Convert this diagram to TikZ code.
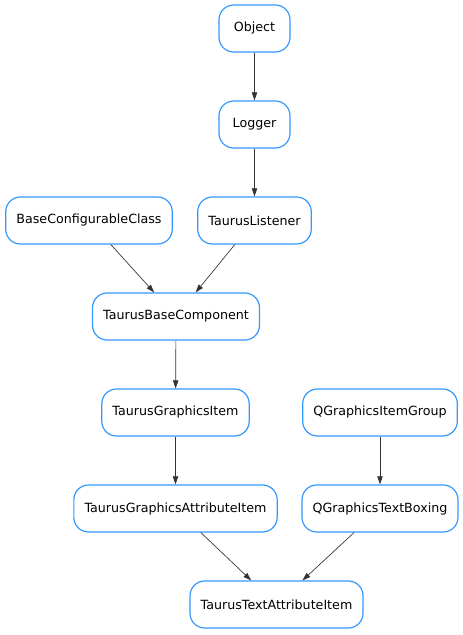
\documentclass[tikz,border=0pt]{standalone}
\usepackage{fontspec}
\setmainfont{DejaVu Sans}
\usetikzlibrary{
  arrows.meta,
  chains,
  positioning,
  scopes
}
\definecolor{classblue}{HTML}{3399FF}
\definecolor{edgegray}{HTML}{333333}

\begin{document}
\begin{tikzpicture}[
      x=0.75pt, y=-0.75pt,
      classbox/.style={
         rectangle,
         rounded corners=11pt,
         minimum height=35.25pt,
         minimum width=53.25pt,
         inner xsep=8pt,
         line width=0.9pt,
         draw=classblue,
         fill=white,
         font=\fontsize{9.5}{11}\selectfont,
         %text height=1.5ex,
         %text depth=.25ex
      },
      >={Triangle[length=6pt,width=4pt]},
      tip/.style={->,draw=edgegray,line width=0.5pt,shorten >=0pt},
    ]
    \useasboundingbox (0,0) rectangle (463,635);
    \node (n11) [classbox] at (254.5,28.5) {Object};
    \node (n21) [classbox] at (254.5,124.5) {Logger};
    \node (n31) [classbox] at (89,220.5) {BaseConfigurableClass};
    \node (n32) [classbox] at (254.5,220.5) {TaurusListener};
    \node (n41) [classbox] at (176,316.5) {TaurusBaseComponent};
    \node (n51) [classbox] at (175.5,412.5) {TaurusGraphicsItem};
    \node (n52) [classbox] at (380,412.5) {QGraphicsItemGroup};
    \node (n61) [classbox] at (175.5,508.5) {TaurusGraphicsAttributeItem};
    \node (n62) [classbox] at (380,508.5) {QGraphicsTextBoxing};
    \node (n71) [classbox] at (276.5,604.5) {TaurusTextAttributeItem};
  { [start chain]
       \chainin (n11);
       \chainin (n21)    [join=by tip];
  }
  { [start chain]
       \chainin (n21);
       \chainin (n32)    [join=by tip];
  }
  { [start chain]
       \chainin (n31);
       \chainin (n41)    [join=by tip];
  }
  { [start chain]
       \chainin (n32);
       \chainin (n41)    [join=by tip];
  }
  { [start chain]
       \chainin (n41);
       \chainin (n51)    [join=by tip];
  }
  { [start chain]
       \chainin (n51);
       \chainin (n61)    [join=by tip];
  }
  { [start chain]
       \chainin (n52);
       \chainin (n62)    [join=by tip];
  }
  { [start chain]
       \chainin (n61);
       \chainin (n71)    [join=by tip];
  }
  { [start chain]
       \chainin (n62);
       \chainin (n71)    [join=by tip];
  }
\end{tikzpicture}
\end{document}
